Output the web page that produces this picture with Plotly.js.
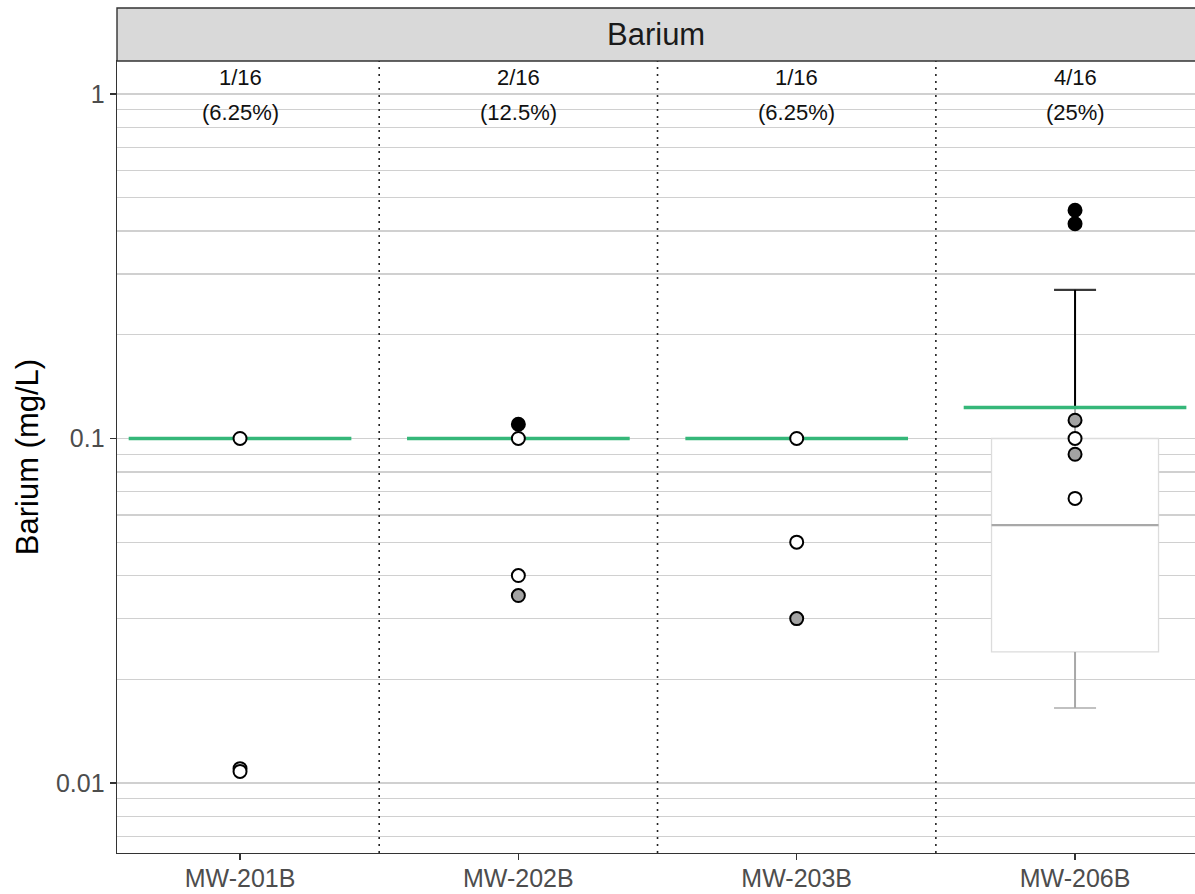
<!DOCTYPE html>
<html>
<head>
<meta charset="utf-8">
<script src="https://cdn.plot.ly/plotly-3.0.1.min.js"></script>
<style>html,body{margin:0;padding:0;background:#fff;}#chart{width:1195px;height:894px;}</style>
</head>
<body>
<div id="chart"></div>
<script>
// ---- data ----
const wells = ['MW-201B', 'MW-202B', 'MW-203B', 'MW-206B'];
const detectedCount = [1, 2, 1, 4];
const sampleCount = [16, 16, 16, 16];
const limitValues = [0.1, 0.1, 0.1, 0.123];

const openWells = ['MW-201B', 'MW-201B', 'MW-201B', 'MW-202B', 'MW-202B', 'MW-203B', 'MW-203B', 'MW-206B', 'MW-206B'];
const openValues = [0.1, 0.011, 0.0108, 0.1, 0.04, 0.1, 0.05, 0.1, 0.067];
const grayWells = ['MW-202B', 'MW-203B', 'MW-206B', 'MW-206B'];
const grayValues = [0.035, 0.03, 0.113, 0.09];
const blackWells = ['MW-202B', 'MW-206B', 'MW-206B'];
const blackValues = [0.11, 0.46, 0.42];

const boxWell = 'MW-206B';
const boxQ1 = 0.024, boxMedian = 0.056, boxQ3 = 0.1, boxLower = 0.0165, boxUpper = 0.27;

const yTickVals = [0.01, 0.1, 1];
const yTickText = ['0.01', '0.1', '1'];
const minorGrid = [0.007, 0.008, 0.009, 0.02, 0.03, 0.04, 0.05, 0.06, 0.07, 0.08, 0.09,
                   0.2, 0.3, 0.4, 0.5, 0.6, 0.7, 0.8, 0.9];

// ---- helpers ----
const xi = w => wells.indexOf(w);
const FONT = 'Liberation Sans, Arial, sans-serif';
const GREEN = '#35b779';
const GRID = '#d0d0d0';

const traces = [];
const bx = xi(boxWell);

// box body
traces.push({
  type: 'bar', x: [bx], base: [boxQ1], y: [boxQ3 - boxQ1], width: 0.6,
  marker: {color: '#ffffff', line: {color: '#dcdcdc', width: 1.3}},
  hoverinfo: 'skip', showlegend: false
});
// median
traces.push({
  type: 'scatter', mode: 'lines', x: [bx - 0.3, bx + 0.3], y: [boxMedian, boxMedian],
  line: {color: '#a8a8a8', width: 2.2}, hoverinfo: 'skip', showlegend: false
});
// whiskers (gray)
[[boxQ1, boxLower], [boxQ3, boxUpper]].forEach(([a, b]) => {
  traces.push({
    type: 'scatter', mode: 'lines+markers', x: [bx, bx], y: [a, b],
    line: {color: '#a8a8a8', width: 2},
    marker: {symbol: 'line-ew', size: [0, 30], line: {color: '#a8a8a8', width: 2}},
    hoverinfo: 'skip', showlegend: false
  });
});
// black upper interval from limit
traces.push({
  type: 'scatter', mode: 'lines+markers', x: [bx, bx], y: [limitValues[bx], boxUpper],
  line: {color: '#000000', width: 2},
  marker: {symbol: 'line-ew', size: [0, 30], line: {color: '#000000', width: 2.2}},
  hoverinfo: 'skip', showlegend: false
});
// green limit lines
const gx = [], gy = [];
wells.forEach((w, i) => { gx.push(i - 0.4, i + 0.4, null); gy.push(limitValues[i], limitValues[i], null); });
traces.push({
  type: 'scatter', mode: 'lines', x: gx, y: gy, connectgaps: false,
  line: {color: GREEN, width: 3.5}, hoverinfo: 'skip', showlegend: false
});
// points
function pts(ws, vs, fill) {
  return {
    type: 'scatter', mode: 'markers', x: ws.map(xi), y: vs,
    marker: {size: 13, color: fill, line: {color: '#000000', width: 2}},
    showlegend: false
  };
}
traces.push(pts(openWells, openValues, '#ffffff'));
traces.push(pts(grayWells, grayValues, '#a3a3a3'));
traces.push(pts(blackWells, blackValues, '#000000'));

// ---- layout ----
const plotBottom = 853, paperH = 894 - 41 - 8;
const py = pix => (plotBottom - pix) / paperH;
const domTop = py(61);

const annotations = [];
wells.forEach((w, i) => {
  const pct = 100 * detectedCount[i] / sampleCount[i];
  annotations.push({xref: 'x', yref: 'paper', x: i, y: py(78), text: detectedCount[i] + '/' + sampleCount[i],
    showarrow: false, font: {family: FONT, size: 22, color: '#111'}, yanchor: 'middle'});
  annotations.push({xref: 'x', yref: 'paper', x: i, y: py(113), text: '(' + pct + '%)',
    showarrow: false, font: {family: FONT, size: 22, color: '#111'}, yanchor: 'middle'});
});
annotations.push({xref: 'paper', yref: 'paper', x: 0.5, y: (domTop + 1) / 2, text: 'Barium',
  showarrow: false, font: {family: FONT, size: 31, color: '#1a1a1a'}, yanchor: 'middle'});

const shapes = [];
for (let i = 0; i < wells.length - 1; i++) {
  shapes.push({type: 'line', xref: 'x', yref: 'y domain', x0: i + 0.5, x1: i + 0.5, y0: 0, y1: 1,
    line: {color: '#222', width: 1.6, dash: '2px,5px'}, layer: 'above'});
}
shapes.push({type: 'rect', xref: 'paper', yref: 'paper', x0: 0, x1: 1.02, y0: domTop, y1: 1,
  fillcolor: '#d9d9d9', line: {color: '#333333', width: 1.4}, layer: 'above'});

const layout = {
  width: 1195, height: 894,
  margin: {l: 117, r: 0, t: 8, b: 41},
  paper_bgcolor: '#ffffff', plot_bgcolor: '#ffffff',
  showlegend: false,
  barmode: 'overlay',
  font: {family: FONT},
  xaxis: {
    range: [-0.442, 3.431], tickvals: wells.map((w, i) => i), ticktext: wells,
    showgrid: false, zeroline: false,
    showline: true, linecolor: '#333', linewidth: 1.4, mirror: true,
    ticks: 'outside', ticklen: 6, tickwidth: 1.4, tickcolor: '#333',
    ticklabelstandoff: -3,
    tickfont: {family: FONT, size: 25, color: '#4d4d4d'}
  },
  yaxis: {
    type: 'log', range: [Math.log10(0.00626), Math.log10(1.247)], domain: [0, domTop],
    tickvals: yTickVals, ticktext: yTickText,
    showgrid: true, gridcolor: GRID, gridwidth: 1.3,
    minor: {tickvals: minorGrid, showgrid: true, gridcolor: GRID, gridwidth: 1.3, ticks: ''},
    zeroline: false, showline: true, linecolor: '#333', linewidth: 1.4,
    ticks: 'outside', ticklen: 6, tickwidth: 1.4, tickcolor: '#333',
    tickfont: {family: FONT, size: 25, color: '#4d4d4d'},
    title: {text: 'Barium (mg/L)', font: {family: FONT, size: 31, color: '#000'}, standoff: 8}
  },
  annotations: annotations,
  shapes: shapes
};

Plotly.newPlot('chart', traces, layout, {displayModeBar: false, staticPlot: true});
</script>
</body>
</html>
